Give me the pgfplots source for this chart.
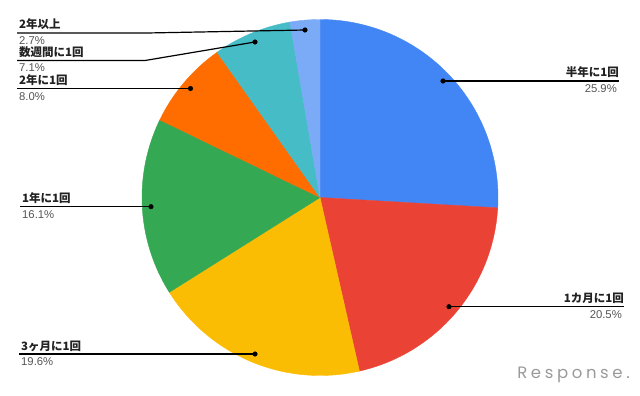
\documentclass[border=0pt]{standalone}
\usepackage{fontspec}
\setmainfont{Noto Sans CJK JP}
\newfontfamily\pctfont{Liberation Sans}
\newfontfamily\logofont[LetterSpace=22]{Poppins}
\usepackage{pgfplots}
\usepackage{pgfplotstable}
\pgfplotsset{compat=1.18}

\definecolor{slA}{HTML}{4285F4}
\definecolor{slB}{HTML}{EA4335}
\definecolor{slC}{HTML}{FBBC04}
\definecolor{slD}{HTML}{34A853}
\definecolor{slE}{HTML}{FF6D01}
\definecolor{slF}{HTML}{46BDC6}
\definecolor{slG}{HTML}{7BAAF7}
\definecolor{labelc}{HTML}{222222}
\definecolor{pctc}{HTML}{555555}
\definecolor{logoc}{HTML}{9A9A9A}

% share of each answer, clockwise from 12 o'clock
\pgfplotstableread[col sep=comma]{
label,value,color
半年に1回,25.9,slA
1カ月に1回,20.5,slB
3ヶ月に1回,19.6,slC
1年に1回,16.1,slD
2年に1回,8.0,slE
数週間に1回,7.1,slF
2年以上,2.7,slG
}\piedata

% total of all slices
\def\pietotal{0}
\foreach \i in {0,...,6}{%
  \pgfplotstablegetelem{\i}{value}\of\piedata
  \pgfmathsetmacro\tmp{\pietotal+\pgfplotsretval}%
  \xdef\pietotal{\tmp}%
}
% start/end angle, colour, label and value of every slice
\def\cum{0}
\foreach \i in {0,...,6}{%
  \pgfplotstablegetelem{\i}{value}\of\piedata
  \edef\v{\pgfplotsretval}%
  \expandafter\xdef\csname pieV\i\endcsname{\v}%
  \pgfmathsetmacro\a{\cum/\pietotal*360}%
  \pgfmathsetmacro\b{(\cum+\v)/\pietotal*360}%
  \expandafter\xdef\csname pieS\i\endcsname{\a}%
  \expandafter\xdef\csname pieE\i\endcsname{\b}%
  \pgfplotstablegetelem{\i}{color}\of\piedata
  \expandafter\xdef\csname pieC\i\endcsname{\pgfplotsretval}%
  \pgfplotstablegetelem{\i}{label}\of\piedata
  \expandafter\xdef\csname pieL\i\endcsname{\pgfplotsretval}%
  \pgfmathsetmacro\c{\cum+\v}%
  \xdef\cum{\c}%
}

\newcommand\namefont{\bfseries\fontsize{11.5}{12}\selectfont}
\newcommand\pctfontsize{\pctfont\fontsize{11.3}{12}\selectfont}
% #1 row, #2 x where the leader line starts, #3 y of the leader line
\newcommand\leftlabel[3]{%
  \node[anchor=base west, inner sep=0pt, font=\namefont, text=labelc]
    at (axis cs:#2+2,#3-4) {\csname pieL#1\endcsname};
  \node[anchor=base west, inner sep=0pt, font=\pctfontsize, text=pctc]
    at (axis cs:#2+2,#3+11.5) {\csname pieV#1\endcsname\%};
}
% #1 row, #2 x where the leader line ends, #3 y of the leader line
\newcommand\rightlabel[3]{%
  \node[anchor=base east, inner sep=0pt, font=\namefont, text=labelc]
    at (axis cs:#2,#3-4) {\csname pieL#1\endcsname};
  \node[anchor=base east, inner sep=0pt, font=\pctfontsize, text=pctc]
    at (axis cs:#2-2,#3+11.5) {\csname pieV#1\endcsname\%};
}

\begin{document}
\begin{tikzpicture}
\begin{axis}[
  width=640pt, height=396pt, scale only axis,
  xmin=0, xmax=640, ymin=0, ymax=396,
  y dir=reverse, hide axis, clip=false,
]
% page frame
\addplot[draw=none] coordinates {(0,0) (640,396)};

% slices
\pgfplotsinvokeforeach{0,...,6}{
  \edef\doslice{\noexpand\addplot[
    draw=\csname pieC#1\endcsname, line width=0.4pt,
    fill=\csname pieC#1\endcsname,
    domain=\csname pieS#1\endcsname:\csname pieE#1\endcsname,
    samples=120]}
  \doslice ({320+178*sin(x)},{197.5-178*cos(x)}) -- (axis cs:320,197.5) -- cycle;
}

% leader lines
\addplot[black, line width=1.2pt] coordinates {(443,81) (619,81)};
\addplot[black, line width=1.2pt] coordinates {(449,306.7) (624,306.7)};
\addplot[black, line width=1.2pt] coordinates {(255,354) (19,354)};
\addplot[black, line width=1.2pt] coordinates {(151,206.7) (20,206.7)};
\addplot[black, line width=1.2pt] coordinates {(190.5,88.5) (17,88.5)};
\addplot[black, line width=1.2pt] coordinates {(255,42) (145,60.5) (17,60.5)};
\addplot[black, line width=1.2pt] coordinates {(305,30) (147,33) (17,33)};
\addplot[only marks, mark=*, mark size=2.3pt, black] coordinates {
  (443,81) (449,306.7) (255,354) (151,206.7) (190.5,88.5) (255,42) (305,30)};

% labels
\rightlabel{0}{619}{81}
\rightlabel{1}{624}{306.7}
\leftlabel{2}{19}{354}
\leftlabel{3}{20}{206.7}
\leftlabel{4}{17}{88.5}
\leftlabel{5}{17}{60.5}
\leftlabel{6}{17}{33}

% watermark
\node[anchor=base east, inner sep=0pt, text=logoc,
      font=\logofont\fontsize{16.5}{16}\selectfont]
  at (axis cs:630,378) {Response.};
\end{axis}
\end{tikzpicture}
\end{document}
